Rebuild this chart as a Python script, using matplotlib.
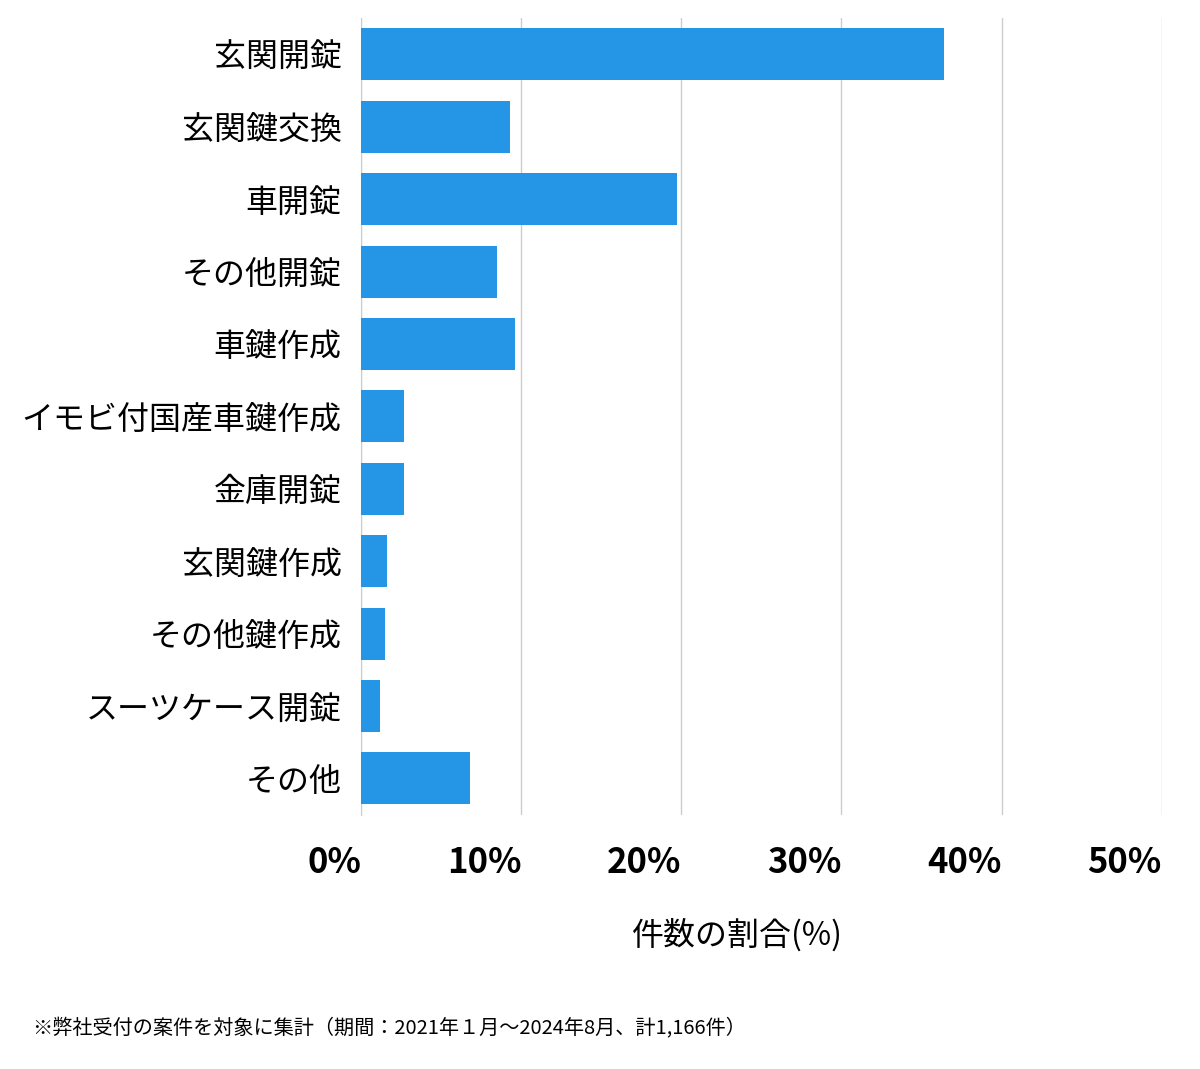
import matplotlib
matplotlib.use("Agg")
import matplotlib.pyplot as plt

JP = "Noto Sans CJK JP"

CATEGORIES = ["玄関開錠", "玄関鍵交換", "車開錠", "その他開錠", "車鍵作成",
              "イモビ付国産車鍵作成", "金庫開錠", "玄関鍵作成", "その他鍵作成",
              "スーツケース開錠", "その他"]
VALUES = [36.4, 9.3, 19.7, 8.5, 9.6, 2.7, 2.7, 1.6, 1.5, 1.2, 6.8]
TICKS = [0, 10, 20, 30, 40, 50]
TICK_LABELS = ["0%", "10%", "20%", "30%", "40%", "50%"]

fig = plt.figure(figsize=(12, 10.69), dpi=100)
ax = fig.add_axes([0.301, 0.238, 0.667, 0.745])

ys = list(range(len(CATEGORIES)))
ax.barh(ys, VALUES, height=0.72, color="#2596e6", zorder=3)
ax.set_ylim(len(CATEGORIES) - 0.5, -0.5)
ax.set_xlim(0, 50)

ax.set_xticks(TICKS)
ax.set_xticklabels(TICK_LABELS, fontfamily=JP, fontsize=25, fontweight="bold", ha="right")
ax.tick_params(axis="x", length=0, pad=22)
ax.set_yticks(ys)
ax.set_yticklabels(CATEGORIES, fontfamily=JP, fontsize=23)
ax.tick_params(axis="y", length=0, pad=14)

ax.xaxis.grid(True, color="#cccccc", linewidth=1, zorder=0)
for s in ["top", "right", "bottom"]:
    ax.spines[s].set_visible(False)
ax.spines["left"].set_color("#cccccc")

ax.set_xlabel("件数の割合(%)", fontfamily=JP, fontsize=23)
ax.xaxis.set_label_coords(0.47, -0.13)

fig.text(0.027, 0.032, "※弊社受付の案件を対象に集計（期間：2021年１月〜2024年8月、計1,166件）",
         fontfamily=JP, fontsize=14.5)

fig.savefig("out.png", dpi=100, facecolor="white")
